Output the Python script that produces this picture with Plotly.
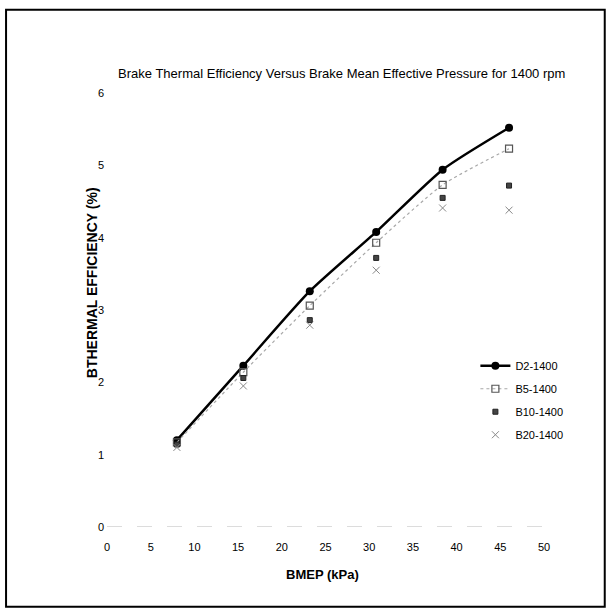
import plotly.graph_objects as go

bmep = [8.0, 15.6, 23.2, 30.8, 38.4, 46.0]
d2 = [1.20, 2.23, 3.26, 4.08, 4.94, 5.52]
b5 = [1.17, 2.14, 3.06, 3.93, 4.73, 5.23]
b10 = [1.14, 2.06, 2.86, 3.72, 4.55, 4.72]
b20 = [1.10, 1.95, 2.79, 3.55, 4.41, 4.38]

x_ticks = [0, 5, 10, 15, 20, 25, 30, 35, 40, 45, 50]
y_ticks = [0, 1, 2, 3, 4, 5, 6]

FONT = "Liberation Sans, Arial, sans-serif"

fig = go.Figure()
fig.add_trace(go.Scatter(
    x=bmep, y=d2, name="D2-1400", mode="lines+markers", legendgroup="a",
    line=dict(color="black", width=2.5, shape="spline", smoothing=0.6),
    marker=dict(symbol="circle", size=8, color="black")))
fig.add_trace(go.Scatter(
    x=bmep, y=b5, name="B5-1400", mode="lines+markers", legendgroup="b",
    line=dict(color="#a8a8a8", width=1.2, dash="dot", shape="spline", smoothing=0.6),
    marker=dict(symbol="square-open", size=7, color="#555555", line=dict(width=1.2))))
fig.add_trace(go.Scatter(
    x=bmep, y=b10, name="B10-1400", mode="markers", legendgroup="c",
    marker=dict(symbol="square", size=5, color="#444444",
                line=dict(color="#222222", width=1))))
fig.add_trace(go.Scatter(
    x=bmep, y=b20, name="B20-1400", mode="markers", legendgroup="d",
    marker=dict(symbol="x-thin-open", size=7, color="#888888",
                line=dict(color="#888888", width=1))))

# faded zero baseline
fig.add_shape(type="line", xref="x", yref="y", x0=x_ticks[0], x1=x_ticks[-1],
              y0=0, y1=0, line=dict(color="#b8b8b8", width=1, dash="longdash"))
# outer frame of the scanned page
fig.add_shape(type="rect", xref="paper", yref="paper",
              x0=-0.231, x1=1.139, y0=-0.184, y1=1.192,
              line=dict(color="black", width=2))

fig.update_layout(
    width=607, height=610,
    margin=dict(l=107, r=63, t=93, b=83),
    paper_bgcolor="white", plot_bgcolor="white",
    font=dict(family=FONT, color="black"),
    title=dict(text="Brake Thermal Efficiency Versus Brake Mean Effective Pressure for 1400 rpm",
               x=0.563, xanchor="center", y=0.880, yanchor="middle",
               font=dict(family=FONT, size=13, color="black")),
    xaxis=dict(range=[0, 50], tickvals=x_ticks, showgrid=False, zeroline=False,
               showline=False, ticks="", ticklabelstandoff=12,
               tickfont=dict(size=11, family=FONT, color="black")),
    yaxis=dict(range=[0, 6], tickvals=y_ticks, showgrid=False, zeroline=False,
               showline=False, ticks="", ticklabelstandoff=2,
               tickfont=dict(size=11, family=FONT, color="black")),
    legend=dict(x=0.843, y=0.405, xanchor="left", yanchor="top",
                bgcolor="rgba(0,0,0,0)", tracegroupgap=4,
                font=dict(size=11, family=FONT, color="black")),
    showlegend=True,
    annotations=[
        dict(text="<b>BTHERMAL EFFICIENCY (%)</b>", xref="paper", yref="paper",
             x=-0.034, y=0.562, textangle=-90, showarrow=False,
             xanchor="center", yanchor="middle",
             font=dict(size=14, family=FONT, color="black")),
        dict(text="<b>BMEP (kPa)</b>", xref="paper", yref="paper",
             x=0.494, y=-0.11, showarrow=False, xanchor="center", yanchor="middle",
             font=dict(size=13, family=FONT, color="black")),
    ],
)

fig.write_html("out.html")
